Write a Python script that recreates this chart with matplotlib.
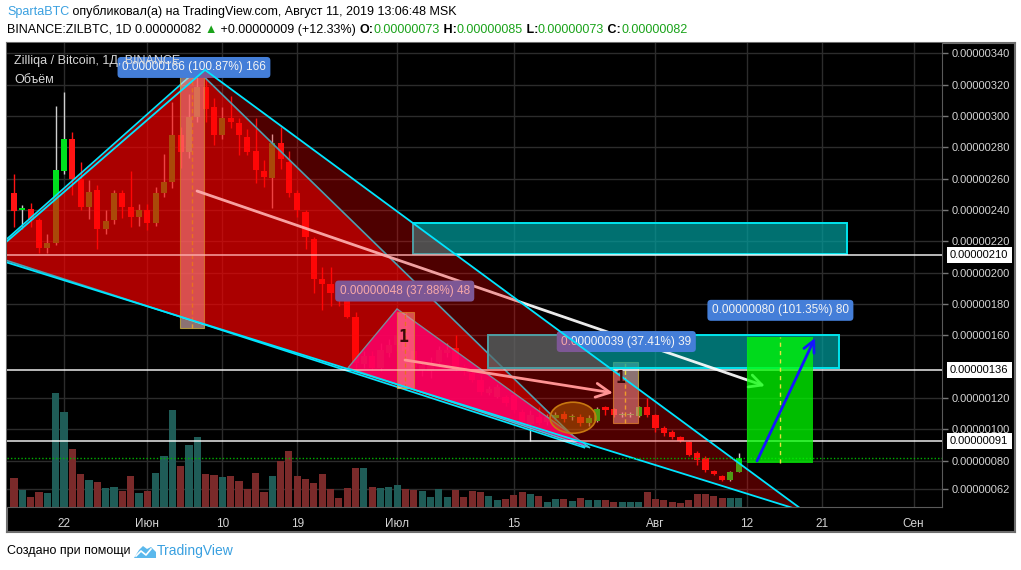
import numpy as np
import pandas as pd
import matplotlib
matplotlib.use("Agg")
import matplotlib.pyplot as plt
import matplotlib.dates as mdates
import matplotlib.transforms as mtransforms
from matplotlib.patches import Polygon, Rectangle, Ellipse
from datetime import datetime

W, H = 1021, 570
FONT = ['Liberation Sans', 'DejaVu Sans']
plt.rcParams['font.family'] = FONT

# ---------------- data (prices in satoshi = 1e-8 BTC) ----------------
dates = pd.date_range("2019-05-16", "2019-08-11", freq="D")
opens = [250.8, 240, 240.6, 233.6, 215.7, 218.9, 265, 285.3, 259.8, 242, 252.8, 227.7, 233.6, 250.8, 242, 235.5,
         240, 231.6, 250.8, 257.9, 287.8, 277, 299.4, 318.7, 305.8, 288, 298.6, 295.5, 286.6, 277.6, 265, 260.4,
         282.8, 270.7, 250.8, 238.7, 221.6, 196, 193, 187, 184.5, 171.8, 142, 147, 139, 149,
         154, 160, 150, 138, 137, 143, 149, 152, 140, 136, 131.6, 123.3, 121, 121, 122, 111.3, 103.6, 108, 105, 107.5,
         110, 108, 108, 104.3, 105.6, 114.4, 113.2, 109.4, 109.3, 108.8, 114.4,
         109.4, 101, 98.5, 95.2, 92.0, 85, 81.8, 73.5, 70.4, 67.8, 73]
highs = [263, 243, 244.5, 235, 224.8, 306.5, 315, 290, 270.6, 259, 256, 240, 253, 253, 265, 244,
         244, 254.7, 275.7, 309, 293, 314, 327, 326, 311.6, 305.8, 313, 298.6, 291.6, 298.6, 272, 288.6,
         293, 277.6, 252.7, 240, 222.9, 203.7, 203.7, 192, 187, 175, 150, 150, 155, 158,
         170, 175, 152, 144, 146, 153, 155, 160, 142, 138, 135, 128, 129, 122, 125, 113, 112.6, 114.4, 110, 111,
         112, 110, 110, 109, 114.5, 114.8, 114, 111, 111, 115, 120.2,
         110, 102, 99.5, 96, 92.5, 86, 83, 74, 71, 73.5, 85]
lows = [229, 228, 229, 212.7, 212.7, 217.7, 263, 249.6, 240, 234, 215, 225, 231, 235, 229, 230,
        227, 229.8, 248, 254, 267, 273, 296, 296, 281.6, 285, 292, 275, 275, 257, 254.7, 241,
        266, 248, 235.5, 215, 187, 176, 179, 179, 171, 138, 139, 137, 137, 146,
        150, 145, 137, 134, 133, 140, 146, 137, 135, 130, 122, 122, 120, 115, 110.4, 104, 92.7, 103, 103, 106,
        105, 106, 102, 102, 104.5, 109, 108, 108, 108, 108, 108,
        98.6, 96, 94, 92, 83, 77.4, 72.9, 71, 67, 67, 73]
closes = [239.3, 241, 233.6, 215.7, 218.9, 265.6, 285.3, 259.8, 242, 251.5, 227.7, 232.9, 250.8, 242, 235.5, 240,
          231.6, 250.8, 257.9, 287.8, 277, 299.4, 318.7, 304.6, 288, 298.6, 296, 288, 277, 265.6, 261, 282.8,
          272.6, 250.8, 240, 222.8, 196, 193, 187, 182.8, 171.8, 142.5, 147, 139, 151, 154,
          160, 150, 140, 141, 142, 150.8, 151, 140, 137, 131.6, 124, 125.9, 127, 117, 112.6, 105, 109.4, 104.3, 108, 109.4,
          107, 108.3, 104.3, 107.5, 113.2, 112.6, 109.4, 109.7, 109.6, 114.4, 109.4,
          101, 97.8, 95.2, 92.7, 83.7, 80.6, 74.2, 71.6, 67.8, 72.9, 82]
volumes = [29, 17, 10, 15, 14, 114, 95, 58, 33, 27, 25, 19, 20, 16, 31, 14,
           16, 34, 51, 97, 41, 62, 70, 33, 32, 30, 31, 26, 18, 34, 15, 31, 46, 56, 31, 28, 24, 33, 18, 9, 19, 39, 39, 20, 19, 20,
           22, 18, 17, 16, 10, 18, 10, 17, 10, 16, 15, 11, 7, 8, 12, 15, 13, 11, 5, 8, 8, 6, 9, 7, 7, 7, 5, 5, 5, 5, 15,
           8, 7, 5, 4, 7, 13, 13, 11, 9, 9, 9]

price_ticks = [340, 320, 300, 280, 260, 240, 220, 200, 180, 160, 120, 100, 80, 62]
time_tick_dates = ["2019-05-22", "2019-06-01", "2019-06-10", "2019-06-19", "2019-07-01",
                   "2019-07-15", "2019-08-01", "2019-08-12", "2019-08-21", "2019-09-01"]
time_tick_labels = ["22", "Июн", "10", "19", "Июл", "15", "Авг", "12", "21", "Сен"]
level_values = [211.3, 138.0, 92.7]
level_labels = ["0.00000210", "0.00000136", "0.00000091"]
current_price = 82

# ---------------- figure ----------------
fig = plt.figure(figsize=(W / 100, H / 100), dpi=100)
fig.patch.set_facecolor('white')

bg = fig.add_axes([7 / W, (H - 532) / H, 1008 / W, 489 / H])
bg.set_facecolor('black')
bg.set_xticks([]); bg.set_yticks([])
for s in bg.spines.values():
    s.set_color('#6e6e6e'); s.set_linewidth(1.5)

ax = fig.add_axes([7 / W, (H - 507) / H, 935 / W, 464 / H])
ax.set_facecolor('black')
base = mdates.date2num(datetime(2019, 5, 22))
def X(d):
    return base + d
ymin, ymax = 50.57, 346.5
ax.set_xlim(X(-6.843), X(105.40))
ax.set_ylim(ymin, ymax)
ax.spines['top'].set_visible(False)
ax.spines['left'].set_visible(False)
ax.spines['right'].set_color('#5a5a5a')
ax.spines['bottom'].set_color('#5a5a5a')

ax.yaxis.tick_right()
ax.set_yticks(price_ticks)
ax.set_yticklabels([f"{v * 1e-8:.8f}" for v in price_ticks])
ax.tick_params(axis='y', color='#777777', length=4, width=1, labelcolor='#d4d4d4', labelsize=8, pad=3)
ax.set_xticks([mdates.date2num(pd.Timestamp(d).to_pydatetime()) for d in time_tick_dates])
ax.set_xticklabels(time_tick_labels)
ax.tick_params(axis='x', length=0, pad=8, labelcolor='#d4d4d4', labelsize=8.5)
ax.grid(True, color='#2c2c2c', lw=1)
ax.set_axisbelow(True)

x = mdates.date2num(dates.to_pydatetime())
O = np.array(opens); Hh = np.array(highs); L = np.array(lows); C = np.array(closes)
up = C >= O

# volume
vol_scale = (ymax - ymin) / 464.0
vcol = ['#1f5c57' if u else '#7a2a2a' for u in up]
ax.bar(x, np.array(volumes) * vol_scale, bottom=ymin, width=0.86, color=vcol, zorder=1, linewidth=0)

# candles
wcol = ['#cfcfcf' if u else '#ff1414' for u in up]
bcol = ['#00e01e' if u else '#ff1414' for u in up]
ax.vlines(x, L, Hh, colors=wcol, lw=1, zorder=2)
ax.bar(x, np.maximum(np.abs(C - O), 0.8), bottom=np.minimum(O, C), width=0.74,
       color=bcol, zorder=2.1, linewidth=0)

# triangle A (bright red overlap)
triA = Polygon([(X(-9.0), 211.4), (X(15.97), 329.3), (X(62.55), 88.3)], closed=True,
               fc=(1, 0, 0, 0.52), ec=(0, 0.9, 1, 1), lw=1.2, zorder=3)
ax.add_patch(triA)
# triangle C (pink)
triC = Polygon([(X(34.09), 139.3), (X(39.98), 176.9), (X(63.15), 88.3)], closed=True,
               fc=(1, 0, 0.6, 0.85), ec='#40c8e0', lw=1, zorder=3.2)
ax.add_patch(triC)

# range columns
for (d0, w, lo, hi, dc, lc) in [(13.93, 2.88, 164.6, 330.6, 15.37, '#e0a030'),
                                (39.98, 2.04, 126.7, 174.7, 40.94, '#e0a030'),
                                (65.9, 3.0, 104.3, 143.3, 67.3, '#e8e040')]:
    ax.add_patch(Rectangle((X(d0), lo), w, hi - lo, fc=(1, 0.82, 0.82, 0.55),
                           ec=(0.8, 0.7, 0.25, 0.8), lw=0.8, zorder=3.4))
    ax.plot([X(dc), X(dc)], [lo, hi], ls=(0, (3, 2)), color=lc, lw=1, zorder=3.5)

# teal zones
for (d0, d1, lo, hi) in [(41.9, 94.0, 212.0, 231.7), (50.9, 93.0, 139.2, 160.3)]:
    ax.add_patch(Rectangle((X(d0), lo), d1 - d0, hi - lo, fc=(0, 0.63, 0.63, 0.7),
                           ec='#00e5ee', lw=1.4, zorder=3.55))

# level lines
for v in level_values:
    ax.axhline(v, color=(1, 1, 1, 0.85), lw=1.2, zorder=3.6)

# arrows
ax.annotate('', xy=(X(84.15), 127.7), xytext=(X(15.97), 252.1),
            arrowprops=dict(arrowstyle='->,head_length=0.9,head_width=0.45', color=(1, 1, 1, 0.92),
                            lw=2, shrinkA=0, shrinkB=0), zorder=3.7)
ax.annotate('', xy=(X(65.9), 123.3), xytext=(X(40.94), 144.3),
            arrowprops=dict(arrowstyle='->,head_length=1.0,head_width=0.5', color='#ffd6d6',
                            lw=2, shrinkA=0, shrinkB=0), zorder=3.7)

lab_kw = dict(ha='center', va='center', fontsize=8.5, color='#f4f4f4')
def blue_box():
    return dict(boxstyle='round,pad=0.38,rounding_size=0.3', fc='#447ed8', ec='none')
ax.text(X(15.6), 330.9, "0.00000166 (100.87%) 166", bbox=blue_box(), zorder=3.8, **lab_kw)
ax.text(X(40.9), 188.3, "0.00000048 (37.88%) 48", bbox=blue_box(), zorder=3.8, **lab_kw)
ax.text(X(67.5), 156.1, "0.00000039 (37.41%) 39", bbox=blue_box(), zorder=3.8, **lab_kw)

# triangle B (dark red)
triB = Polygon([(X(-9.0), 210.1), (X(16.93), 329.3), (X(88.96), 47.5)], closed=True,
               fc=(1, 0, 0, 0.31), ec='#00e5ff', lw=1.3, zorder=4)
ax.add_patch(triB)

for (d, v) in [(40.7, 159.1), (66.75, 133.0)]:
    ax.text(X(d), v, "1", fontsize=12, weight='bold', family='DejaVu Sans Mono', color='#3a0808',
            ha='center', va='center', zorder=4.1)

ax.axhline(current_price, color='#00b000', lw=1, ls=(0, (1, 1.5)), zorder=4.2)

ax.add_patch(Ellipse((X(61.1), 107.5), 5.5, 19.8, fc=(0.75, 0.38, 0, 0.5), ec='#c87810', lw=1.2, zorder=4.5))

# projection
ax.add_patch(Rectangle((X(82.0), 78.9), 7.9, 80.0, fc=(0, 1, 0, 0.75), ec='none', zorder=5))
ax.plot([X(86.0), X(86.0)], [78.9, 158.9], ls=(0, (3, 3)), color='#e8e040', lw=1, zorder=5.2)
ax.annotate('', xy=(X(90.16), 158.4), xytext=(X(83.19), 79.9),
            arrowprops=dict(arrowstyle='->,head_length=0.8,head_width=0.4', color='#1515ff',
                            lw=2, shrinkA=0, shrinkB=0), zorder=5.5)
ax.text(X(86.0), 176.0, "0.00000080 (101.35%) 80", bbox=blue_box(), zorder=6, **lab_kw)

# price-scale highlighted labels
trans = mtransforms.blended_transform_factory(ax.transAxes, ax.transData)
for v, lab in zip(level_values, level_labels):
    ax.text(1.0 + 8 / 935, v, lab, transform=trans, ha='left', va='center', fontsize=8, color='black',
            bbox=dict(boxstyle='square,pad=0.3', fc='white', ec='none'), clip_on=False, zorder=10)

# legend texts
fig.text(14 / W, 1 - 61 / H, "Zilliqa / Bitcoin, 1Д, BINANCE", fontsize=9, color='#d8d8d8', va='center', zorder=20)
fig.text(14 / W, 1 - 80 / H, "Объём", fontsize=9, color='#d8d8d8', va='center', zorder=20)

# header
renderer = fig.canvas.get_renderer()
def segs(x0, y0, parts, size):
    xx = x0
    for txt, col, wt in parts:
        t = fig.text(xx / W, 1 - y0 / H, txt, color=col, fontsize=size, weight=wt, va='center', ha='left')
        xx += t.get_window_extent(renderer=renderer).width

GREEN = '#1aa31a'
segs(7, 12, [("SpartaBTC", '#3aa0e0', 'normal'),
             (" опубликовал(а) на TradingView.com, Август 11, 2019 13:06:48 MSK", 'black', 'normal')], 9)
segs(7, 30, [("BINANCE:ZILBTC, 1D 0.00000082 ", 'black', 'normal'), ("▲", GREEN, 'normal'),
             (" +0.00000009 (+12.33%) ", 'black', 'normal'),
             ("O:", 'black', 'bold'), ("0.00000073", GREEN, 'normal'),
             (" H:", 'black', 'bold'), ("0.00000085", GREEN, 'normal'),
             (" L:", 'black', 'bold'), ("0.00000073", GREEN, 'normal'),
             (" C:", 'black', 'bold'), ("0.00000082", GREEN, 'normal')], 9)

# footer
fig.text(7 / W, 1 - 551 / H, "Создано при помощи", fontsize=9, color='black', va='center')
logo = Polygon([(134 / W, 1 - 558 / H), (139 / W, 1 - 550 / H), (143 / W, 1 - 546 / H), (147 / W, 1 - 549 / H),
                (151 / W, 1 - 547 / H), (156 / W, 1 - 552 / H), (156 / W, 1 - 558 / H)], closed=True,
               transform=fig.transFigure, fc='#5bb8ec', ec='none')
fig.add_artist(logo)
fig.add_artist(plt.Line2D([136 / W, 141 / W, 146 / W, 151 / W], [1 - 556 / H, 1 - 551 / H, 1 - 555 / H, 1 - 549 / H],
                          transform=fig.transFigure, color='white', lw=1.2))
fig.text(157 / W, 1 - 551 / H, "TradingView", fontsize=10, color='#39a0e0', va='center')

fig.savefig("out.png", dpi=100, facecolor='white')
